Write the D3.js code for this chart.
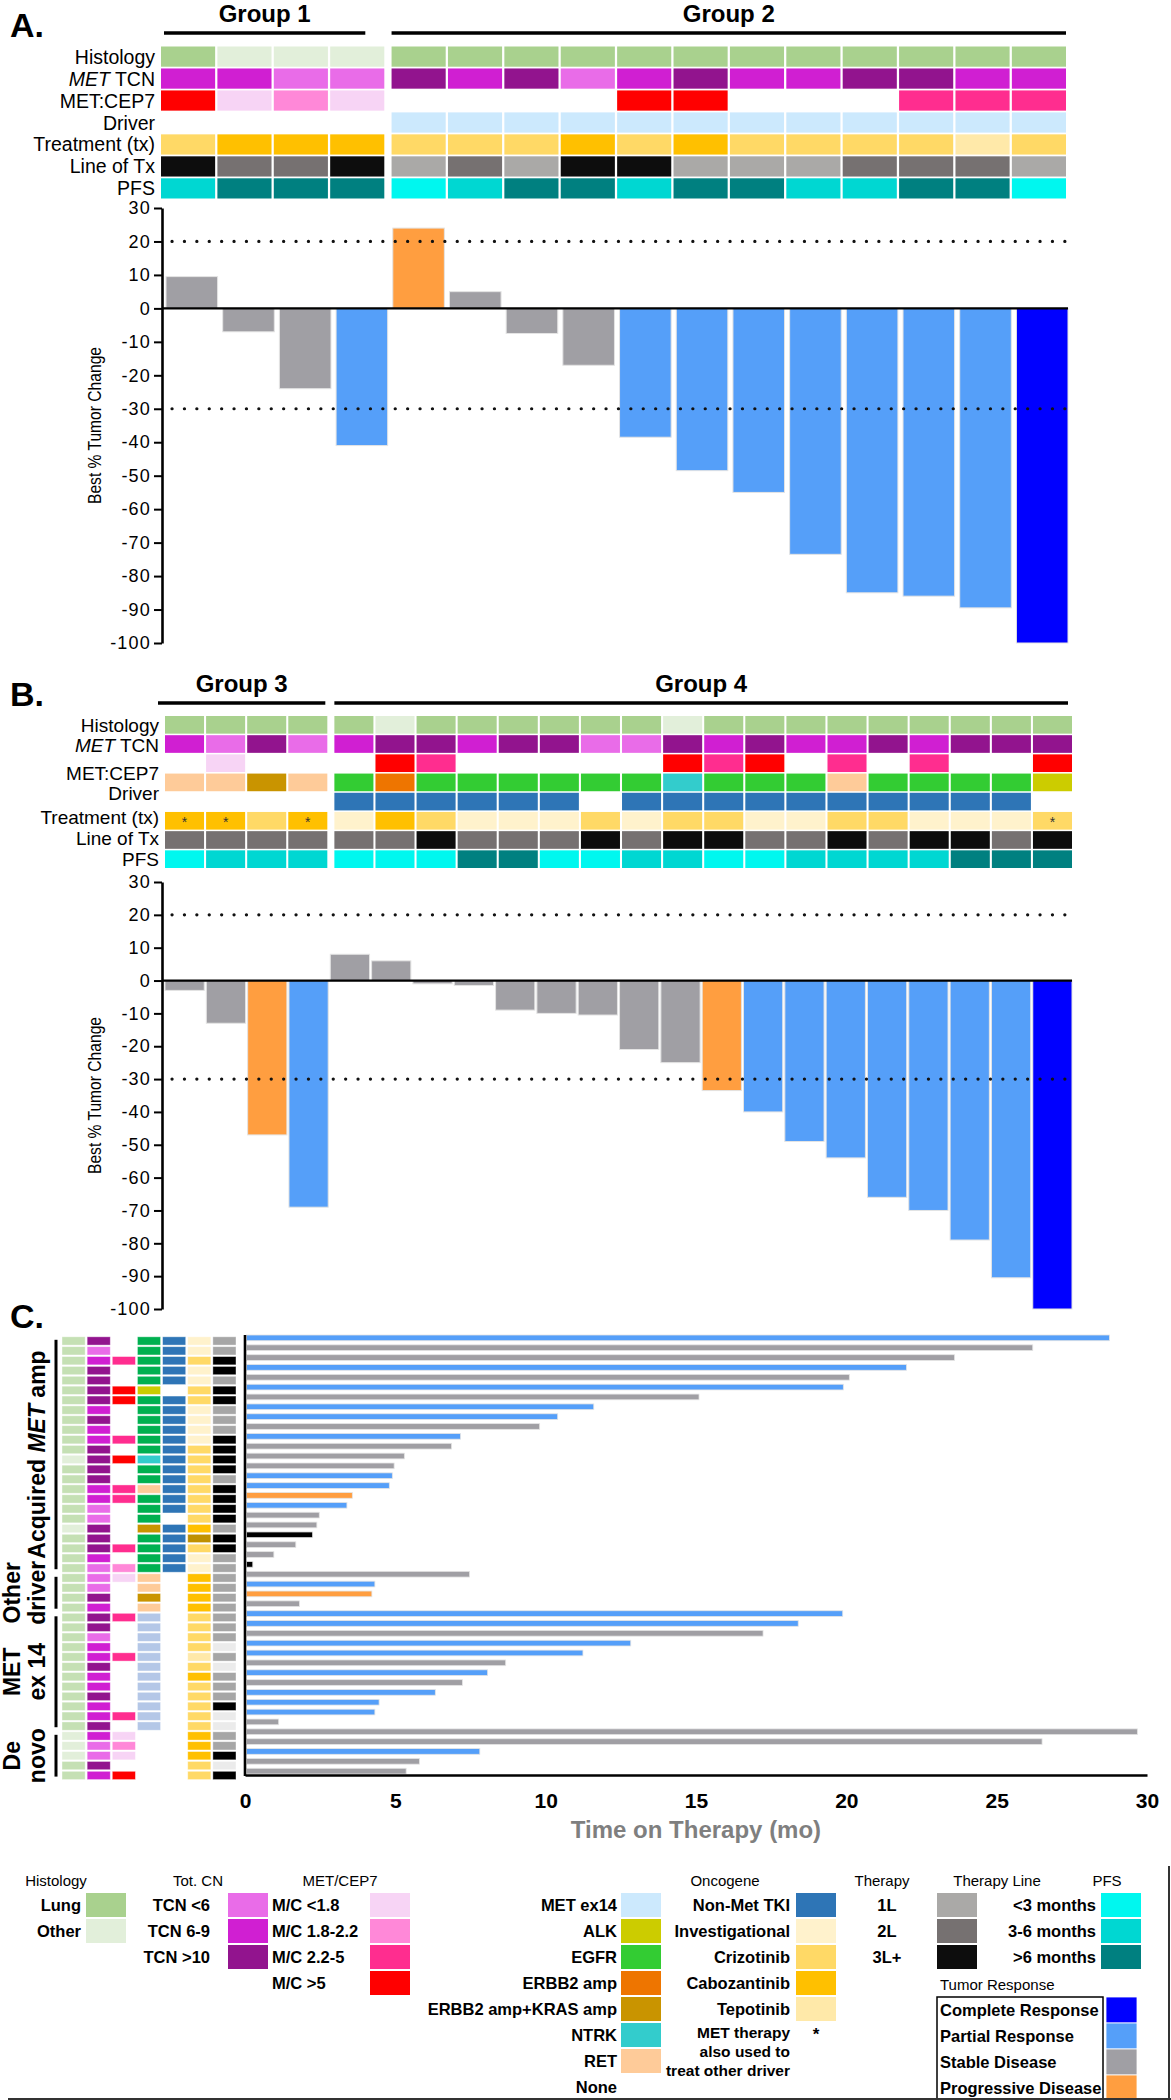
<!DOCTYPE html>
<html>
<head>
<meta charset="utf-8">
<script src="https://cdn.jsdelivr.net/npm/d3@7"></script>
<style>
  body { margin: 0; background: #fff; }
  svg { display: block; font-family: "Liberation Sans", Arial, Helvetica, sans-serif; }
</style>
</head>
<body>
<div id="chart"></div>
<script>
// ---------- panel A ----------
const groupsA = ["Group 1", "Group 2"];
const groupSizeA = [4, 12];
const histologyA = ["Lung","Other","Other","Other","Lung","Lung","Lung","Lung","Lung","Lung","Lung","Lung","Lung","Lung","Lung","Lung"];
const tcnA = ["6-9","6-9","<6","<6",">10","6-9",">10","<6","6-9",">10","6-9","6-9",">10",">10","6-9","6-9"];
const cepA = [">5","<1.8","1.8-2.2","<1.8","","","","",">5",">5","","","","2.2-5","2.2-5","2.2-5"];
const driverA = ["","","","","MET ex14","MET ex14","MET ex14","MET ex14","MET ex14","MET ex14","MET ex14","MET ex14","MET ex14","MET ex14","MET ex14","MET ex14"];
const txA = ["Crizotinib","Cabozantinib","Cabozantinib","Cabozantinib","Crizotinib","Crizotinib","Crizotinib","Cabozantinib","Crizotinib","Cabozantinib","Crizotinib","Crizotinib","Crizotinib","Crizotinib","Tepotinib","Crizotinib"];
const lineA = ["3L+","2L","2L","3L+","1L","2L","1L","3L+","3L+","1L","1L","1L","2L","2L","2L","1L"];
const pfsA = ["3-6",">6",">6",">6","<3","3-6",">6",">6","3-6",">6",">6","3-6","3-6",">6",">6","<3"];
const changeA = [9.5,-7,-24,-41,24,5,-7.5,-17,-38.5,-48.5,-55,-73.5,-85,-86,-89.5,-100];
const responseA = ["SD","SD","SD","PR","PD","SD","SD","SD","PR","PR","PR","PR","PR","PR","PR","CR"];

// ---------- panel B ----------
const groupsB = ["Group 3", "Group 4"];
const groupSizeB = [4, 18];
const histologyB = ["Lung","Lung","Lung","Lung","Lung","Other","Lung","Lung","Lung","Lung","Lung","Lung","Other","Lung","Lung","Lung","Lung","Lung","Lung","Lung","Lung","Lung"];
const tcnB = ["6-9","<6",">10","<6","6-9",">10",">10","6-9",">10",">10","<6","<6",">10","6-9",">10","6-9","6-9",">10","6-9",">10",">10",">10"];
const cepB = ["","<1.8","","","",">5","2.2-5","","","","","",">5","2.2-5",">5","","2.2-5","","2.2-5","","",">5"];
const oncoB = ["RET","RET","ERBB2 amp+KRAS amp","RET","EGFR","ERBB2 amp","EGFR","EGFR","EGFR","EGFR","EGFR","EGFR","NTRK","EGFR","EGFR","EGFR","RET","EGFR","EGFR","EGFR","EGFR","ALK"];
const tkiB = ["","","","","Y","Y","Y","Y","Y","Y","","Y","Y","Y","Y","Y","Y","Y","Y","Y","Y",""];
const txB = ["Cabozantinib","Cabozantinib","Crizotinib","Cabozantinib","Investigational","Cabozantinib","Crizotinib","Investigational","Investigational","Investigational","Crizotinib","Investigational","Crizotinib","Crizotinib","Investigational","Investigational","Crizotinib","Crizotinib","Investigational","Investigational","Investigational","Crizotinib"];
const starB = [0, 1, 3, 21];
const lineB = ["2L","2L","2L","2L","2L","2L","3L+","2L","2L","2L","3L+","2L","3L+","3L+","2L","2L","3L+","2L","3L+","3L+","2L","3L+"];
const pfsB = ["<3","3-6","3-6","3-6","<3","<3","<3",">6",">6","<3","<3","3-6","3-6","<3","<3","3-6","3-6","3-6","3-6",">6",">6",">6"];
const changeB = [-3,-13,-47,-69,8,6,-1,-1.5,-9,-10,-10.5,-21,-25,-33.5,-40,-49,-54,-66,-70,-79,-90.5,-100];
const responseB = ["SD","SD","PD","PR","SD","SD","SD","SD","SD","SD","SD","SD","SD","PD","PR","PR","PR","PR","PR","PR","PR","CR"];

// ---------- panel C ----------
const cohortsC = [["", "Acquired MET amp", 0, 23], ["Other", "driver", 24, 27], ["MET", "ex 14", 28, 39], ["De", "novo", 40, 44]];
const histologyC = ["Lung","Lung","Lung","Lung","Lung","Lung","Lung","Lung","Lung","Lung","Lung","Lung","Other","Lung","Lung","Lung","Lung","Lung","Lung","Other","Lung","Lung","Lung","Lung",
  "Lung","Lung","Lung","Lung","Lung","Lung","Lung","Lung","Lung","Lung","Lung","Lung","Lung","Lung","Lung","Lung","Other","Other","Other","Lung","Lung"];
const tcnC = [">10","<6","6-9",">10",">10",">10",">10","6-9",">10","6-9","6-9",">10",">10",">10",">10","6-9","6-9","<6","<6",">10",">10",">10","6-9","<6",
  "<6","<6",">10","6-9",">10",">10","<6","6-9","6-9",">10","6-9","6-9",">10","6-9","6-9",">10","6-9","<6","<6",">10","6-9"];
const cepC = ["","","2.2-5","","",">5",">5","","","","2.2-5","",">5","","","2.2-5","2.2-5","","","","","2.2-5","","1.8-2.2",
  "<1.8","","","","2.2-5","","","","2.2-5","","","","","","2.2-5","","<1.8","1.8-2.2","<1.8","",">5"];
const oncoC = ["EGFR","EGFR","EGFR","EGFR","EGFR","ALK","EGFR","EGFR","EGFR","EGFR","EGFR","EGFR","NTRK","EGFR","EGFR","RET","EGFR","EGFR","EGFR","ERBB2 amp+KRAS amp","EGFR","EGFR","EGFR","EGFR",
  "RET","RET","ERBB2 amp+KRAS amp","RET","MET ex14","MET ex14","MET ex14","MET ex14","MET ex14","MET ex14","MET ex14","MET ex14","MET ex14","MET ex14","MET ex14","MET ex14","","","","",""];
const tkiC = ["Y","Y","Y","Y","Y","","Y","Y","Y","Y","Y","Y","Y","Y","Y","Y","Y","Y","","Y","Y","Y","Y","Y",
  "","","","","","","","","","","","","","","","","","","","",""];
const txC = ["Investigational","Investigational","Crizotinib","Investigational","Investigational","Crizotinib","Crizotinib","Investigational","Investigational","Investigational","Investigational","Crizotinib","Crizotinib","Crizotinib","Crizotinib","Crizotinib","Crizotinib","Crizotinib","Crizotinib","Cabozantinib","Other","Crizotinib","Investigational","Investigational",
  "Cabozantinib","Cabozantinib","Cabozantinib","Cabozantinib","Crizotinib","Crizotinib","Crizotinib","Crizotinib","Tepotinib","Crizotinib","Cabozantinib","Crizotinib","Crizotinib","Crizotinib","Crizotinib","Crizotinib","Cabozantinib","Cabozantinib","Cabozantinib","Crizotinib","Crizotinib"];
const lineC = ["1L","1L","3L+","3L+","1L","3L+","3L+","1L","1L","1L","3L+","3L+","3L+","3L+","1L","3L+","3L+","3L+","3L+","1L","3L+","3L+","1L","1L",
  "1L","1L","1L","1L","1L","1L","1L","NA","1L","NA","1L","1L","1L","3L+","NA","NA","1L","1L","3L+","NA","3L+"];
const monthsC = [28.75,26.2,23.6,22.0,20.1,19.9,15.1,11.6,10.4,9.8,7.17,6.87,5.3,4.96,4.9,4.8,3.57,3.39,2.47,2.39,2.25,1.69,0.96,0.26,
  7.47,4.32,4.22,1.81,19.88,18.4,17.23,12.83,11.24,8.67,8.07,7.23,6.33,4.46,4.32,1.12,29.68,26.51,7.81,5.8,5.36];
const responseC = ["PR","SD","SD","PR","SD","PR","SD","PR","PR","SD","PR","SD","SD","SD","PR","PR","PD","PR","SD","SD","NE","SD","SD","NE",
  "SD","PR","PD","SD","PR","PR","SD","PR","PR","SD","PR","SD","PR","PR","PR","SD","SD","SD","PR","SD","SD"];
const timeTicks = [0, 5, 10, 15, 20, 25, 30];
const changeTicks = d3.range(-100, 31, 10);

// ---------- legend ----------
const legendHistology = ["Lung", "Other"];
const legendTcn = ["<6", "6-9", ">10"];
const legendCep = ["<1.8", "1.8-2.2", "2.2-5", ">5"];
const legendOnco = ["MET ex14", "ALK", "EGFR", "ERBB2 amp", "ERBB2 amp+KRAS amp", "NTRK", "RET", "None"];
const legendTherapy = ["Non-Met TKI", "Investigational", "Crizotinib", "Cabozantinib", "Tepotinib"];
const legendLine = ["1L", "2L", "3L+"];
const legendPfs = ["<3", "3-6", ">6"];
const legendResponse = [["CR", "Complete Response"], ["PR", "Partial Response"], ["SD", "Stable Disease"], ["PD", "Progressive Disease"]];
const starNote = ["MET therapy", "also used to", "treat other driver"];

// ---------- colours ----------
const histColor = { Lung: "#a9d18e", Other: "#e2efda" };
const histColorC = { Lung: "#c5e0b4", Other: "#e2efda" };
const tcnColor = { "<6": "#e96ce8", "6-9": "#d01fd2", ">10": "#92148e" };
const cepColor = { "<1.8": "#f7d4f5", "1.8-2.2": "#ff88d8", "2.2-5": "#ff2d8f", ">5": "#ff0000" };
const oncoColor = { "MET ex14": "#cce9fd", ALK: "#cccc00", EGFR: "#33cc33", "ERBB2 amp": "#ee7500", "ERBB2 amp+KRAS amp": "#c99400", NTRK: "#33cccc", RET: "#fecb99" };
const oncoColorC = Object.assign({}, oncoColor, { "MET ex14": "#b4c7e7", EGFR: "#00b050" });
const tkiColor = { Y: "#2e75b6" };
const txColor = { Investigational: "#fff2cc", Crizotinib: "#ffd966", Cabozantinib: "#ffc000", Tepotinib: "#ffe9a9", Other: "#bf9000" };
const therapyColor = Object.assign({ "Non-Met TKI": "#2e75b6" }, txColor);
const lineColor = { "1L": "#aaa9a7", "2L": "#767171", "3L+": "#0d0d0d", NA: "#ebebeb" };
const lineColorC = { "1L": "#a6a6a6", "2L": "#767171", "3L+": "#000000", NA: "#ebebeb" };
const pfsColor = { "<3": "#00f7ef", "3-6": "#00d7d2", ">6": "#008080" };
const respColor = { CR: "#0000ff", PR: "#559ff9", SD: "#a09fa4", PD: "#ff9e40", NE: "#000000" };

const width = 1171;
const height = 2100;

const svg = d3.select("#chart").append("svg")
  .attr("width", width)
  .attr("height", height)
  .attr("viewBox", `0 0 ${width} ${height}`);

function columns(n, nFirst, x0, x1, gap, pad) {
  const band = d3.scaleBand().domain(d3.range(n)).range([x0, x1 - gap]).paddingInner(pad);
  return { x: i => band(i) + (i >= nFirst ? gap : 0), w: band.bandwidth() };
}

function panelLabel(txt, y) {
  svg.append("text").attr("x", 10).attr("y", y)
    .attr("font-size", 34).attr("font-weight", "bold").text(txt);
}

// insets: [left, right] trim of each group's rule, in px
function groupHeaders(names, sizes, col, lineY, textY, insets) {
  let start = 0;
  names.forEach((name, k) => {
    const end = start + sizes[k] - 1;
    const x0 = col.x(start) + insets[k][0], x1 = col.x(end) + col.w - insets[k][1];
    svg.append("line").attr("x1", x0).attr("x2", x1).attr("y1", lineY).attr("y2", lineY)
      .attr("stroke", "#000").attr("stroke-width", 3.5);
    svg.append("text").attr("x", (x0 + x1) / 2).attr("y", textY)
      .attr("text-anchor", "middle").attr("font-size", 24).attr("font-weight", "bold").text(name);
    start = end + 1;
  });
}

function heatmap(rows, col, yBand) {
  rows.forEach((r, k) => {
    const cells = r.values.map((v, i) => ({ v, i })).filter(d => r.colors[d.v]);
    svg.append("g").selectAll("rect").data(cells).join("rect")
      .attr("x", d => col.x(d.i))
      .attr("y", yBand(k))
      .attr("width", col.w)
      .attr("height", yBand.bandwidth())
      .attr("fill", d => r.colors[d.v]);
  });
}

function rowLabels(labels, positions, yBand, x, size) {
  labels.forEach((lab, k) => {
    const t = svg.append("text").attr("x", x)
      .attr("y", yBand(0) + yBand.step() * positions[k] + yBand.bandwidth() / 2)
      .attr("dy", "0.36em").attr("text-anchor", "end").attr("font-size", size);
    if (lab.startsWith("MET ")) {
      t.append("tspan").attr("font-style", "italic").text("MET");
      t.append("tspan").text(lab.slice(3));
    } else {
      t.text(lab);
    }
  });
}

function waterfall(values, resp, xBand, y, axisX, xEnd) {
  const g = svg.append("g");
  g.selectAll("rect").data(values).join("rect")
    .attr("x", (d, i) => xBand(i))
    .attr("width", xBand.bandwidth())
    .attr("y", d => Math.min(y(0), y(d)))
    .attr("height", d => Math.abs(y(d) - y(0)))
    .attr("fill", (d, i) => respColor[resp[i]])
    .attr("stroke", "#e4e4e4").attr("stroke-width", 1);

  [20, -30].forEach(v => {
    g.append("line").attr("x1", axisX + 10).attr("x2", xEnd).attr("y1", y(v)).attr("y2", y(v))
      .attr("stroke", "#111").attr("stroke-width", 3.2)
      .attr("stroke-linecap", "round").attr("stroke-dasharray", "0.1 12.3");
  });
  g.append("line").attr("x1", axisX).attr("x2", xEnd).attr("y1", y(0)).attr("y2", y(0))
    .attr("stroke", "#000").attr("stroke-width", 2.2);

  const ax = g.append("g").attr("transform", `translate(${axisX},0)`)
    .call(d3.axisLeft(y).tickValues(changeTicks).tickSize(8).tickSizeOuter(0).tickPadding(3).tickFormat(d => String(d)));
  ax.select(".domain").attr("stroke", "#000").attr("stroke-width", 2.6);
  ax.selectAll(".tick line").attr("stroke", "#000").attr("stroke-width", 2);
  ax.selectAll(".tick text").attr("font-size", 18).attr("letter-spacing", 1.2)
    .attr("fill", "#000").attr("font-family", '"Liberation Sans", Arial, sans-serif');

  const [y0, y1] = y.range();
  svg.append("text")
    .attr("transform", `translate(101,${(y0 + y1) / 2}) rotate(-90)`)
    .attr("text-anchor", "middle").attr("font-size", 18)
    .attr("textLength", 157).attr("lengthAdjust", "spacingAndGlyphs")
    .text("Best % Tumor Change");
}

// ================= PANEL A =================
const nA = changeA.length;
const colA = columns(nA, groupSizeA[0], 161, 1066, 5, 0.04);
const yHeatA = d3.scaleBand().domain(d3.range(7)).range([46.5, 198.5]).paddingInner(0.08);
panelLabel("A.", 37);
groupHeaders(groupsA, groupSizeA, colA, 33, 22, [[3, 19], [0, 0]]);
heatmap([
  { values: histologyA, colors: histColor },
  { values: tcnA, colors: tcnColor },
  { values: cepA, colors: cepColor },
  { values: driverA, colors: oncoColor },
  { values: txA, colors: txColor },
  { values: lineA, colors: lineColor },
  { values: pfsA, colors: pfsColor }
], colA, yHeatA);
rowLabels(["Histology", "MET TCN", "MET:CEP7", "Driver ", "Treatment (tx)", "Line of Tx ", "PFS"],
  [0, 1, 2, 3, 4, 5, 6], yHeatA, 155, 19.5);

const xBarA = d3.scaleBand().domain(d3.range(nA)).range([166, 1068]).paddingInner(0.09);
const yA = d3.scaleLinear().domain([-100, 30]).range([643, 208]);
waterfall(changeA, responseA, xBarA, yA, 162, 1068);

// ================= PANEL B =================
const nB = changeB.length;
const colB = columns(nB, groupSizeB[0], 165, 1072, 5, 0.05);
const yHeatB = d3.scaleBand().domain(d3.range(8)).range([716, 868]).paddingInner(0.08);
panelLabel("B.", 706);
groupHeaders(groupsB, groupSizeB, colB, 703, 692, [[-7, 2], [0, 4]]);
heatmap([
  { values: histologyB, colors: histColor },
  { values: tcnB, colors: tcnColor },
  { values: cepB, colors: cepColor },
  { values: oncoB, colors: oncoColor },
  { values: tkiB, colors: tkiColor },
  { values: txB, colors: txColor },
  { values: lineB, colors: lineColor },
  { values: pfsB, colors: pfsColor }
], colB, yHeatB);
svg.append("g").selectAll("text").data(starB).join("text")
  .attr("x", i => colB.x(i) + colB.w / 2)
  .attr("y", yHeatB(5) + yHeatB.bandwidth() / 2 + 6)
  .attr("text-anchor", "middle").attr("font-size", 14).attr("fill", "#333").text("*");
rowLabels(["Histology", "MET TCN", "MET:CEP7", "Driver ", "Treatment (tx)", "Line of Tx ", "PFS"],
  [0, 1.05, 2.5, 3.55, 4.8, 5.9, 7], yHeatB, 159, 19);

const xBarB = d3.scaleBand().domain(d3.range(nB)).range([165, 1072]).paddingInner(0.05);
const yB = d3.scaleLinear().domain([-100, 30]).range([1309, 882]);
waterfall(changeB, responseB, xBarB, yB, 162, 1072);

// ================= PANEL C =================
panelLabel("C.", 1328);
const nC = monthsC.length;
const colC = d3.scaleBand().domain(d3.range(7)).range([62, 236]).paddingInner(0.08);
const rowC = d3.scaleBand().domain(d3.range(nC)).range([1336.8, 1779.6]).paddingInner(0.16);
const heatC = [
  [histologyC, histColorC], [tcnC, tcnColor], [cepC, cepColor], [oncoC, oncoColorC],
  [tkiC, tkiColor], [txC, txColor], [lineC, lineColorC]
];
heatC.forEach(([vals, colors], c) => {
  const cells = vals.map((v, i) => ({ v, i })).filter(d => colors[d.v]);
  svg.append("g").selectAll("rect").data(cells).join("rect")
    .attr("x", colC(c)).attr("y", d => rowC(d.i))
    .attr("width", colC.bandwidth()).attr("height", rowC.bandwidth())
    .attr("fill", d => colors[d.v])
    .attr("stroke", "#fff").attr("stroke-opacity", 0.5).attr("stroke-width", 0.8);
});

cohortsC.forEach(([l1, l2, a, b]) => {
  const top = rowC(a) + 3, bot = rowC(b) + rowC.bandwidth() - 3;
  const mid = (top + bot) / 2;
  svg.append("line").attr("x1", 56).attr("x2", 56).attr("y1", top).attr("y2", bot)
    .attr("stroke", "#000").attr("stroke-width", 3);
  [[l1, 20], [l2, 45]].forEach(([txt, bx]) => {
    if (!txt) return;
    const t = svg.append("text").attr("transform", `translate(${bx},${mid}) rotate(-90)`)
      .attr("text-anchor", "middle").attr("font-size", 23).attr("font-weight", "bold");
    if (txt.includes("MET") && txt !== "MET") {
      const parts = txt.split("MET");
      t.append("tspan").text(parts[0]);
      t.append("tspan").attr("font-style", "italic").text("MET");
      t.append("tspan").text(parts[1]);
    } else {
      t.text(txt);
    }
  });
});

const xC = d3.scaleLinear().domain([0, 30]).range([245, 1147]);
const yBarC = d3.scaleBand().domain(d3.range(nC)).range([1335, 1774]).paddingInner(0.42);
svg.append("g").selectAll("rect").data(monthsC).join("rect")
  .attr("x", xC(0) + 1.5)
  .attr("y", (d, i) => yBarC(i))
  .attr("width", d => xC(d) - xC(0) - 1.5)
  .attr("height", yBarC.bandwidth())
  .attr("fill", (d, i) => respColor[responseC[i]])
  .attr("stroke", "#e4e4e4").attr("stroke-width", 0.8);

const axC = svg.append("g").attr("transform", "translate(0,1775)")
  .call(d3.axisBottom(xC).tickValues(timeTicks).tickSize(0).tickSizeOuter(0).tickPadding(18));
axC.select(".domain").attr("stroke", "#000").attr("stroke-width", 2.6);
axC.selectAll(".tick text").attr("font-size", 21).attr("font-weight", "bold").attr("fill", "#000")
  .attr("font-family", '"Liberation Sans", Arial, sans-serif');
svg.append("line").attr("x1", xC(0)).attr("x2", xC(0)).attr("y1", 1335).attr("y2", 1776)
  .attr("stroke", "#000").attr("stroke-width", 2.6);
svg.append("text").attr("x", (xC(0) + xC(30)) / 2).attr("y", 1838)
  .attr("text-anchor", "middle").attr("font-size", 24).attr("font-weight", "bold")
  .attr("fill", "#7f7f7f").text("Time on Therapy (mo)");

// ================= LEGEND =================
const legY = k => 1905 + 26 * k;
const headers = [["Histology", 56], ["Tot. CN", 198], ["MET/CEP7", 340], ["Oncogene", 725], ["Therapy", 882], ["Therapy Line", 997], ["PFS", 1107]];
svg.append("g").selectAll("text").data(headers).join("text")
  .attr("x", d => d[1]).attr("y", 1886).attr("text-anchor", "middle")
  .attr("font-size", 15).text(d => d[0]);

function legendColumn(items, labelFn, colors, textX, anchor, swX) {
  const g = svg.append("g");
  items.forEach((key, k) => {
    g.append("text").attr("x", textX).attr("y", legY(k)).attr("dy", "0.36em")
      .attr("text-anchor", anchor).attr("font-size", 16.5).attr("font-weight", "bold")
      .text(labelFn(key));
    if (colors[key]) {
      g.append("rect").attr("x", swX).attr("y", legY(k) - 12).attr("width", 40).attr("height", 24)
        .attr("fill", colors[key]);
    }
  });
}
legendColumn(legendHistology, d => d, histColor, 81, "end", 86);
legendColumn(legendTcn, d => "TCN " + d, tcnColor, 210, "end", 228);
legendColumn(legendCep, d => "M/C " + d, cepColor, 272, "start", 370);
legendColumn(legendOnco, d => d, oncoColor, 617, "end", 621);
legendColumn(legendTherapy, d => d, therapyColor, 790, "end", 796);
legendColumn(legendLine, d => d, lineColor, 887, "middle", 937);
legendColumn(legendPfs, d => d + " months", pfsColor, 1096, "end", 1101);

starNote.forEach((t, k) => {
  svg.append("text").attr("x", 790).attr("y", 2038 + 19 * k).attr("text-anchor", "end")
    .attr("font-size", 15.5).attr("font-weight", "bold").text(t);
});
svg.append("text").attr("x", 816).attr("y", 2040).attr("text-anchor", "middle")
  .attr("font-size", 17).attr("font-weight", "bold").text("*");

svg.append("text").attr("x", 940).attr("y", 1990).attr("font-size", 15).text("Tumor Response");
svg.append("rect").attr("x", 937).attr("y", 1997).attr("width", 166).attr("height", 104)
  .attr("fill", "none").attr("stroke", "#000").attr("stroke-width", 1.5);
legendResponse.forEach(([key, label], k) => {
  svg.append("text").attr("x", 940).attr("y", 2010 + 26 * k).attr("dy", "0.36em")
    .attr("font-size", 16.5).attr("font-weight", "bold").text(label);
  svg.append("rect").attr("x", 1106).attr("y", 1997 + 26 * k).attr("width", 31).attr("height", 26)
    .attr("fill", respColor[key]).attr("stroke", "#fff").attr("stroke-width", 0.8);
});

svg.append("line").attr("x1", 8).attr("x2", 1171).attr("y1", 2099).attr("y2", 2099)
  .attr("stroke", "#333").attr("stroke-width", 2);
svg.append("line").attr("x1", 1169).attr("x2", 1169).attr("y1", 1866).attr("y2", 2100)
  .attr("stroke", "#333").attr("stroke-width", 2);
</script>
</body>
</html>
